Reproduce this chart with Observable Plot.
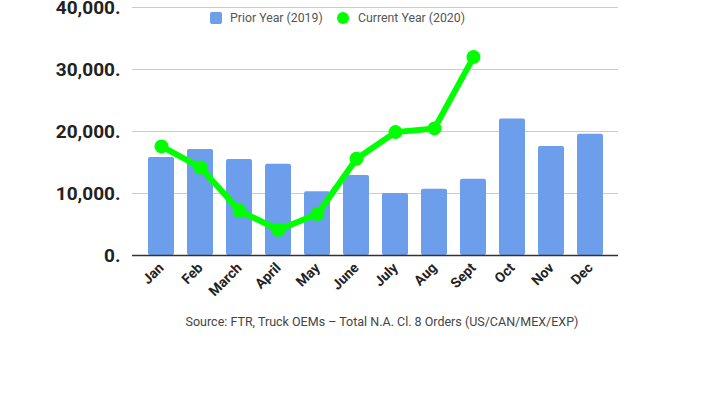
<!DOCTYPE html>
<html>
<head>
<meta charset="utf-8">
<script src="https://cdn.jsdelivr.net/npm/d3@7"></script>
<script src="https://cdn.jsdelivr.net/npm/@observablehq/plot@0.6"></script>
<style>
  body { margin: 0; background: #fff; font-family: Roboto, sans-serif; }
  #wrap { position: relative; width: 711px; height: 399px; }
  .leg { position: absolute; top: 9px; font-size: 12.3px; color: #555; line-height: 18px; white-space: nowrap; }
  .sw { position: absolute; }
  #caption { position: absolute; top: 314px; left: 0; width: 764px; text-align: center; font-size: 12.5px; color: #444; }
</style>
</head>
<body>
<div id="wrap">
  <div id="chart"></div>
  <div class="sw" style="left:210px;top:12px;width:12px;height:12px;background:#6d9eeb;border-radius:2px;"></div>
  <div class="leg" style="left:230px;">Prior Year (2019)</div>
  <div class="sw" style="left:337px;top:12px;width:12px;height:12px;background:#00ff00;border-radius:50%;"></div>
  <div class="leg" style="left:358px;">Current Year (2020)</div>
  <div id="caption">Source: FTR, Truck OEMs – Total N.A. Cl. 8 Orders (US/CAN/MEX/EXP)</div>
</div>
<script>
const months = ["Jan","Feb","March","April","May","June","July","Aug","Sept","Oct","Nov","Dec"];
const prior2019 = [15800, 17100, 15500, 14700, 10300, 12900, 10000, 10700, 12300, 22000, 17600, 19550];
const current2020 = [17600, 14200, 7200, 4150, 6700, 15600, 19900, 20500, 32000];
const yTicks = [0, 10000, 20000, 30000, 40000];

const bars = months.map((m, i) => ({month: m, value: prior2019[i]}));
const pts = current2020.map((v, i) => ({month: months[i], value: v}));

const chart = Plot.plot({
  width: 711,
  height: 300,
  marginTop: 7,
  marginBottom: 45,
  marginLeft: 132,
  marginRight: 93,
  style: {fontFamily: "Roboto, sans-serif", background: "transparent", overflow: "visible"},
  x: {type: "band", domain: months, paddingInner: 0.34, paddingOuter: 0.17, insetLeft: 6, insetRight: 6, label: null},
  y: {domain: [0, 40000], label: null},
  marks: [
    Plot.gridY(yTicks, {stroke: "#cccccc", strokeOpacity: 1}),
    Plot.barY(bars, {x: "month", y: "value", fill: "#6d9eeb", rx: 2}),
    Plot.ruleY([0], {stroke: "#333", strokeWidth: 1.5}),
    Plot.lineY(pts, {x: "month", y: "value", stroke: "#00ff00", strokeWidth: 6}),
    Plot.dot(pts, {x: "month", y: "value", fill: "#00ff00", r: 7}),
    Plot.axisY(yTicks, {tickSize: 0, tickPadding: 12, fontSize: 19, fontWeight: "bold", fill: "#222",
      tickFormat: d => d3.format(",")(d) + "."}),
    Plot.axisX({tickSize: 0, tickPadding: 10, tickRotate: -45, fontSize: 14, fontWeight: "bold", fill: "#222"})
  ]
});
document.getElementById("chart").appendChild(chart);
</script>
</body>
</html>
